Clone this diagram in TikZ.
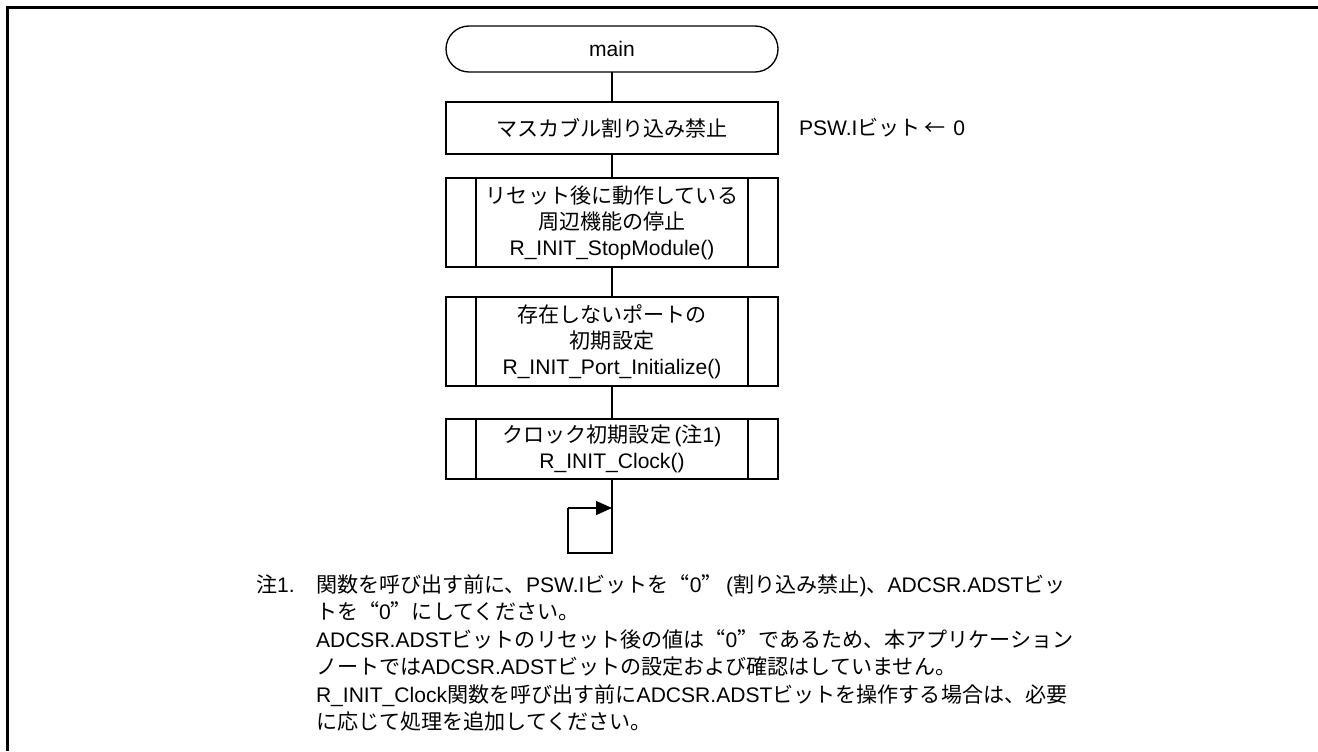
\documentclass[tikz,border=0pt]{standalone}
\usepackage{fontspec}
\setmainfont{Liberation Sans}
\newfontfamily\jp{Noto Sans CJK JP}
\newfontfamily\jq[RawFeature=+fwid]{Noto Sans CJK JP}
\newcommand\J[1]{{\jp #1}}
\newcommand\Q[1]{{\jq “}#1{\jq ”}}
\usetikzlibrary{arrows.meta}
\begin{document}
\begin{tikzpicture}[x=0.75pt,y=-0.75pt,
  every node/.style={font=\fontsize{15.8}{19.5}\selectfont, inner sep=0pt, outer sep=0pt},
  flow/.style={draw, line width=1pt, minimum width=249pt, align=center},
  term/.style={flow, rounded corners=17.25pt, minimum height=34.5pt},
  procbox/.style={flow},
  conn/.style={line width=1pt},
  note/.style={anchor=base west}]
\useasboundingbox (0,0) rectangle (1318,751);
% frame
\draw[line width=1.6pt] (7.5,751) -- (7.5,7.5) -- (1318,7.5);
% flow
\node[term] (main) at (612,49) {main};
\node[procbox, minimum height=39pt] (b1) at (612,128) {\J{マスカブル割り込み禁止}};
\node[procbox, minimum height=66.75pt] (b2) at (612,222.5) {\J{リセット後に動作している}\\\J{周辺機能の停止}\\R\_INIT\_StopModule()};
\node[procbox, minimum height=66.75pt] (b3) at (612,341.5) {\J{存在しないポートの}\\\J{初期設定}\\R\_INIT\_Port\_Initialize()};
\node[procbox, minimum height=45pt] (b4) at (612,449) {\J{クロック初期設定}\,(\J{注}1)\\R\_INIT\_Clock()};
\foreach \b in {b2,b3,b4}{
  \draw[conn] ([xshift=22.5pt]\b.north west) -- ([xshift=22.5pt]\b.south west);
  \draw[conn] ([xshift=-22.5pt]\b.north east) -- ([xshift=-22.5pt]\b.south east);
}
\node[anchor=west] (psw) at (799,128) {PSW.I\J{ビット}\,\J{←}\hspace{6pt}0};
\draw[conn] (main) -- (b1);
\draw[conn] (b1) -- (b2);
\draw[conn] (b2) -- (b3);
\draw[conn] (b3) -- (b4);
\coordinate (lb) at (612,553);
\coordinate (lc) at (568,553);
\coordinate (ld) at (568,508);
\coordinate (le) at (612,508);
\draw[conn] (b4.south) -- (lb) -- (lc) -- (ld);
\draw[conn, -{Triangle[length=12pt,width=10.5pt]}] (ld) -- (le);
% note
\node[note] (n0) at (256,592) {\J{注}1.};
\node[note] (n1) at (316,592) {\J{関数を呼び出す前に、}PSW.I\J{ビットを}\Q{0}\,(\J{割り込み禁止})\J{、}ADCSR.ADST\J{ビッ}};
\node[note] (n2) at (316,619.5) {\J{トを}\Q{0}\J{にしてください。}};
\node[note] (n3) at (316,647) {ADCSR.ADST\J{ビットのリセット後の値は}\Q{0}\J{であるため、本アプリケーション}};
\node[note] (n4) at (316,674.5) {\J{ノートでは}ADCSR.ADST\J{ビットの設定および確認はしていません。}};
\node[note] (n5) at (316,702) {R\_INIT\_Clock\J{関数を呼び出す前に}ADCSR.ADST\J{ビットを操作する場合は、必要}};
\node[note] (n6) at (316,729.5) {\J{に応じて処理を追加してください。}};
\end{tikzpicture}
\end{document}
